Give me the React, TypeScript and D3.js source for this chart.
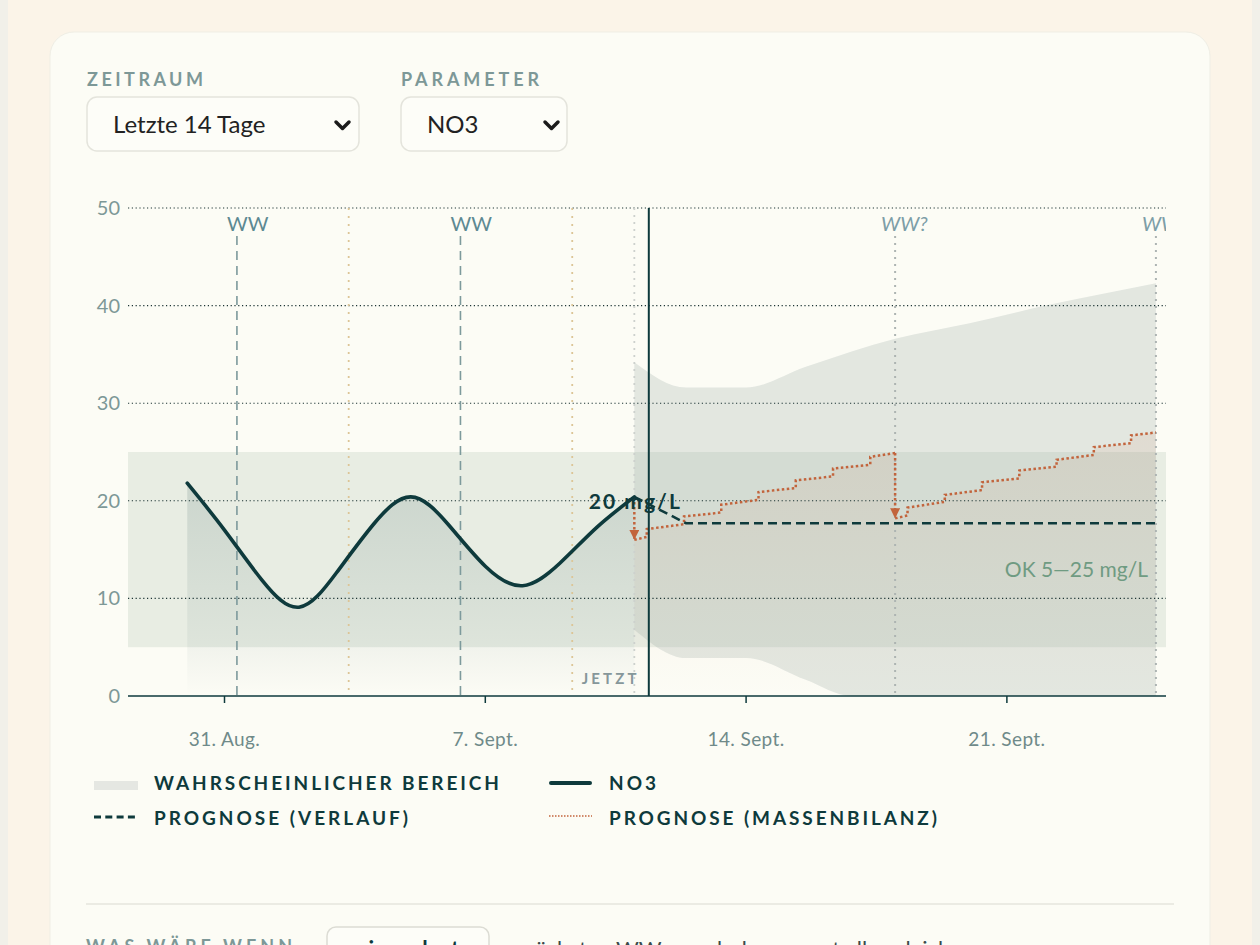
import React, { useLayoutEffect } from "react";
import * as d3 from "d3";

const dt = (m: number, d: number, h = 0, min = 0) => new Date(2024, m - 1, d, h, min);

// ---- axes ----
const domainStart = dt(8, 28, 9, 50);
const domainEnd = dt(9, 25, 6, 30);
const nowDate = dt(9, 11, 9, 20);
const yTicks = [0, 10, 20, 30, 40, 50];
const xTickDates = [dt(8, 31), dt(9, 7), dt(9, 14), dt(9, 21)];
const xTickLabels = ["31. Aug.", "7. Sept.", "14. Sept.", "21. Sept."];

// ---- measured NO3 ----
const no3Dates = [
  dt(8, 30), dt(8, 31), dt(9, 1), dt(9, 2), dt(9, 3), dt(9, 4), dt(9, 5),
  dt(9, 6), dt(9, 7), dt(9, 8), dt(9, 9), dt(9, 10), dt(9, 11),
];
const no3Values = [21.8, 17.0, 11.9, 9.1, 12.6, 17.6, 20.4, 17.6, 13.3, 11.3, 13.6, 17.3, 20.4];

// ---- OK range ----
const okLow = 5;
const okHigh = 25;

// ---- forecast (Verlauf) ----
const verlaufDates = [dt(9, 11), dt(9, 12, 9, 20), dt(9, 25)];
const verlaufValues = [20.4, 17.7, 17.7];

// ---- probable range ----
const bandDates = [
  dt(9, 11), dt(9, 12, 9, 20), dt(9, 14), dt(9, 15, 14), dt(9, 16, 20),
  dt(9, 18), dt(9, 20), dt(9, 22, 4), dt(9, 25),
];
const bandLow = [6.8, 3.9, 3.9, 1.7, 0, 0, 0, 0, 0];
const bandHigh = [34.2, 31.6, 31.6, 33.7, 35.3, 36.6, 38.2, 40.1, 42.3];

// ---- forecast (Massenbilanz) ----
const mbDates1 = [
  dt(9, 11), dt(9, 11, 8), dt(9, 11, 8), dt(9, 12, 8), dt(9, 12, 8), dt(9, 13, 8), dt(9, 13, 8),
  dt(9, 14, 8), dt(9, 14, 8), dt(9, 15, 8), dt(9, 15, 8), dt(9, 16, 8), dt(9, 16, 8),
  dt(9, 17, 8), dt(9, 17, 8), dt(9, 18),
];
const mbValues1 = [16.0, 16.3, 17.1, 17.6, 18.4, 18.8, 19.6, 20.1, 20.9, 21.3, 22.1, 22.5, 23.3, 23.7, 24.5, 24.9];
const mbDates2 = [
  dt(9, 18), dt(9, 18, 8), dt(9, 18, 8), dt(9, 19, 8), dt(9, 19, 8), dt(9, 20, 8), dt(9, 20, 8),
  dt(9, 21, 8), dt(9, 21, 8), dt(9, 22, 8), dt(9, 22, 8), dt(9, 23, 8), dt(9, 23, 8),
  dt(9, 24, 8), dt(9, 24, 8), dt(9, 25),
];
const mbValues2 = [18.2, 18.5, 19.3, 19.9, 20.6, 21.1, 21.9, 22.3, 23.1, 23.5, 24.2, 24.7, 25.5, 25.9, 26.7, 27.0];
const dropDates = [dt(9, 11), dt(9, 18)];
const dropFrom = [20.4, 24.9];
const dropTo = [16.0, 18.2];

// ---- events ----
const wwPastDates = [dt(8, 31, 8), dt(9, 6, 8)];
const dosingDates = [dt(9, 3, 8), dt(9, 9, 8)];
const lastWwDates = [dt(9, 11)];
const wwPlannedDates = [dt(9, 18), dt(9, 25)];

const legendItems = ["WAHRSCHEINLICHER BEREICH", "NO3", "PROGNOSE (VERLAUF)", "PROGNOSE (MASSENBILANZ)"];

const FONT = "Lato, 'Open Sans', sans-serif";
const DARK = "#0e3a3c";
const MUTED = "#7d9897";
const RED = "#c2643c";

export default function App() {
  useLayoutEffect(() => {
    document.body.style.margin = "0";
    document.body.style.overflow = "hidden";
  }, []);

  const W = 1260;
  const H = 945;
  const plot = { left: 128, right: 1166, top: 208, bottom: 696 };
  const x = d3.scaleTime().domain([domainStart, domainEnd]).range([plot.left, plot.right]);
  const y = d3.scaleLinear().domain([0, 50]).range([plot.bottom, plot.top]);

  const idx = (n: number) => d3.range(n);
  const smooth = d3.curveNatural;

  const no3Line = d3
    .line<number>()
    .x((i) => x(no3Dates[i]))
    .y((i) => y(no3Values[i]))
    .curve(smooth)(idx(no3Dates.length)) as string;
  const no3Area = d3
    .area<number>()
    .x((i) => x(no3Dates[i]))
    .y0(y(0))
    .y1((i) => y(no3Values[i]))
    .curve(smooth)(idx(no3Dates.length)) as string;

  const bandArea = d3
    .area<number>()
    .x((i) => x(bandDates[i]))
    .y0((i) => y(bandLow[i]))
    .y1((i) => y(bandHigh[i]))
    .curve(d3.curveMonotoneX)(idx(bandDates.length)) as string;

  const verlaufLine = d3
    .line<number>()
    .x((i) => x(verlaufDates[i]))
    .y((i) => y(verlaufValues[i]))(idx(verlaufDates.length)) as string;

  const mbLine = (ds: Date[], vs: number[]) =>
    d3.line<number>().x((i) => x(ds[i])).y((i) => y(vs[i]))(idx(ds.length)) as string;
  const mbArea = (ds: Date[], vs: number[]) =>
    d3.area<number>().x((i) => x(ds[i])).y0(y(0)).y1((i) => y(vs[i]))(idx(ds.length)) as string;

  const lastX = x(no3Dates[no3Dates.length - 1]);
  const lastY = y(no3Values[no3Values.length - 1]);

  return (
    <svg width={W} height={H} style={{ display: "block" }} fontFamily={FONT}>
      <defs>
        <linearGradient id="no3Grad" x1="0" y1="0" x2="0" y2="1">
          <stop offset="0%" stopColor={DARK} stopOpacity={0.13} />
          <stop offset="75%" stopColor={DARK} stopOpacity={0.05} />
          <stop offset="100%" stopColor={DARK} stopOpacity={0} />
        </linearGradient>
        <linearGradient id="mbGrad" x1="0" y1="0" x2="0" y2="1">
          <stop offset="0%" stopColor={RED} stopOpacity={0.09} />
          <stop offset="100%" stopColor={RED} stopOpacity={0} />
        </linearGradient>
        <clipPath id="plotClip">
          <rect x={plot.left} y={plot.top - 10} width={plot.right - plot.left} height={plot.bottom - plot.top + 10} />
        </clipPath>
        <marker id="arrowRed" viewBox="0 0 10 10" refX="9" refY="5" markerWidth="10" markerHeight="10" markerUnits="userSpaceOnUse" orient="auto">
          <path d="M0,0 L10,5 L0,10 Z" fill={RED} />
        </marker>
      </defs>

      {/* page background */}
      <rect x={0} y={0} width={W} height={H} fill="#f1f0e9" />
      <rect x={8} y={0} width={W - 16} height={H} fill="#fbf4e8" />
      {/* card */}
      <rect x={50} y={32} width={1160} height={1000} rx={24} fill="#fcfcf5" stroke="#efeee5" strokeWidth={1} />

      {/* controls */}
      <text x={87} y={86} fill={MUTED} fontSize={18} fontWeight={700} textLength={116} lengthAdjust="spacing">ZEITRAUM</text>
      <text x={401} y={86} fill={MUTED} fontSize={18} fontWeight={700} textLength={138} lengthAdjust="spacing">PARAMETER</text>
      <rect x={87} y={97} width={272} height={54} rx={10} fill="#fdfdf8" stroke="#e4e4dc" strokeWidth={1.5} />
      <text x={113} y={133} fill="#222" fontSize={24}>Letzte 14 Tage</text>
      <path d="M336,122 L342.5,128.5 L349,122" fill="none" stroke="#1b1b1b" strokeWidth={3.5} strokeLinecap="round" strokeLinejoin="round" />
      <rect x={401} y={97} width={166} height={54} rx={10} fill="#fdfdf8" stroke="#e4e4dc" strokeWidth={1.5} />
      <text x={427} y={133} fill="#222" fontSize={24}>NO3</text>
      <path d="M545,122 L551.5,128.5 L558,122" fill="none" stroke="#1b1b1b" strokeWidth={3.5} strokeLinecap="round" strokeLinejoin="round" />

      {/* OK band */}
      <rect x={plot.left} y={y(okHigh)} width={plot.right - plot.left} height={y(okLow) - y(okHigh)} fill="rgb(180,198,180)" fillOpacity={0.28} />

      {/* probable range */}
      <path d={bandArea} fill="rgb(160,175,170)" fillOpacity={0.27} />

      {/* NO3 area */}
      <path d={no3Area} fill="url(#no3Grad)" />
      {/* mass-balance area */}
      <path d={mbArea(mbDates1, mbValues1)} fill="url(#mbGrad)" />
      <path d={mbArea(mbDates2, mbValues2)} fill="url(#mbGrad)" />

      {/* grid */}
      {yTicks.filter((t) => t > 0).map((t) => (
        <line key={t} x1={plot.left} x2={plot.right} y1={y(t)} y2={y(t)} stroke="#1c3434" strokeWidth={1.1} strokeDasharray="1.2,2.6" />
      ))}

      {/* event lines */}
      {dosingDates.map((d, i) => (
        <line key={"dos" + i} x1={x(d)} x2={x(d)} y1={plot.top} y2={plot.bottom} stroke="#dcc596" strokeWidth={1.8} strokeDasharray="2,6" />
      ))}
      {lastWwDates.map((d, i) => (
        <line key={"lw" + i} x1={x(d)} x2={x(d)} y1={plot.top} y2={plot.bottom} stroke="#cdd1cd" strokeWidth={1.8} strokeDasharray="2,5" />
      ))}
      {wwPastDates.map((d, i) => (
        <g key={"ww" + i}>
          <line x1={x(d)} x2={x(d)} y1={plot.top + 28} y2={plot.bottom} stroke="#7d9a9c" strokeWidth={1.6} strokeDasharray="9,6" />
          <text x={x(d) - 10} y={231} fill="#5d8992" fontSize={20}>WW</text>
        </g>
      ))}
      <g clipPath="url(#plotClip)">
        {wwPlannedDates.map((d, i) => (
          <g key={"wp" + i}>
            <line x1={x(d)} x2={x(d)} y1={plot.top + 28} y2={plot.bottom} stroke="#adb4b2" strokeWidth={2} strokeDasharray="2,5" />
            <text x={x(d) - 14} y={231} fill="#7d9ea7" fontSize={20} fontStyle="italic">WW?</text>
          </g>
        ))}
      </g>

      {/* mass-balance forecast */}
      {dropDates.map((d, i) => (
        <line key={"drop" + i} x1={x(d)} x2={x(d)} y1={y(dropFrom[i])} y2={y(dropTo[i]) - 1} stroke={RED} strokeWidth={2.5} strokeDasharray="2.5,2.5" markerEnd="url(#arrowRed)" />
      ))}
      <path d={mbLine(mbDates1, mbValues1)} fill="none" stroke={RED} strokeWidth={2.5} strokeDasharray="2.5,2.5" />
      <path d={mbLine(mbDates2, mbValues2)} fill="none" stroke={RED} strokeWidth={2.5} strokeDasharray="2.5,2.5" />

      {/* Verlauf forecast */}
      <path d={verlaufLine} fill="none" stroke={DARK} strokeWidth={2.6} strokeDasharray="9,5" />

      {/* NO3 line */}
      <path d={no3Line} fill="none" stroke={DARK} strokeWidth={3.6} strokeLinejoin="round" strokeLinecap="round" />

      {/* now line */}
      <line x1={x(nowDate)} x2={x(nowDate)} y1={plot.top} y2={plot.bottom} stroke={DARK} strokeWidth={2} />
      <text x={x(nowDate) - 9} y={684} textAnchor="end" fill="#86979a" fontSize={15} fontWeight={700} letterSpacing={3.2}>JETZT</text>

      {/* value label */}
      <text x={lastX} y={lastY + 12} textAnchor="middle" fill={DARK} fontSize={21} fontWeight={700} textLength={91} lengthAdjust="spacing">20 mg/L</text>

      {/* OK label */}
      <text x={1148} y={y(12.2)} textAnchor="end" fill="#6f9b82" fontSize={21}>OK 5—25 mg/L</text>

      {/* x axis */}
      <line x1={plot.left} x2={plot.right} y1={plot.bottom} y2={plot.bottom} stroke={DARK} strokeWidth={1.5} />
      {xTickDates.map((d, i) => (
        <g key={"xt" + i}>
          <line x1={x(d)} x2={x(d)} y1={plot.bottom} y2={plot.bottom + 7} stroke={DARK} strokeWidth={1.5} />
          <text x={x(d)} y={746} textAnchor="middle" fill="#6f8a89" fontSize={19} letterSpacing={0.4}>{xTickLabels[i]}</text>
        </g>
      ))}
      {/* y axis labels */}
      {yTicks.map((t) => (
        <text key={"yl" + t} x={120} y={y(t) + 7} textAnchor="end" fill={MUTED} fontSize={20}>{t}</text>
      ))}

      {/* legend */}
      <rect x={94} y={781} width={44} height={9} fill="#e5e7e2" />
      <text x={154} y={790} fill={DARK} fontSize={19} fontWeight={700} textLength={345} lengthAdjust="spacing">{legendItems[0]}</text>
      <line x1={551} x2={590} y1={783} y2={783} stroke={DARK} strokeWidth={4} strokeLinecap="round" />
      <text x={609} y={790} fill={DARK} fontSize={19} fontWeight={700} textLength={47} lengthAdjust="spacing">{legendItems[1]}</text>
      <line x1={94} x2={138} y1={817} y2={817} stroke={DARK} strokeWidth={3} strokeDasharray="7,4.3" />
      <text x={154} y={825} fill={DARK} fontSize={19} fontWeight={700} textLength={254} lengthAdjust="spacing">{legendItems[2]}</text>
      <line x1={549} x2={592} y1={816} y2={816} stroke={RED} strokeWidth={1.6} strokeDasharray="1.5,1.5" />
      <text x={609} y={825} fill={DARK} fontSize={19} fontWeight={700} textLength={328} lengthAdjust="spacing">{legendItems[3]}</text>

      {/* separator + what-if row (continues below the visible page, as in the reference) */}
      <line x1={86} x2={1174} y1={904} y2={904} stroke="#ebebe3" strokeWidth={2} />
      <text x={86} y={953} fill={MUTED} fontSize={18} fontWeight={700} textLength={206} lengthAdjust="spacing">WAS WÄRE WENN</text>
      <rect x={327} y={927} width={162} height={54} rx={9} fill="#fdfdf8" stroke="#dcdcd4" strokeWidth={1.5} />
      <text x={408} y={957} textAnchor="middle" fill={DARK} fontSize={22} fontWeight={700}>eingeplant</text>
      <text x={505} y={957} fill="#3a4a4a" fontSize={22}>– nächsten WW verschoben, sonst alles gleich</text>
    </svg>
  );
}
